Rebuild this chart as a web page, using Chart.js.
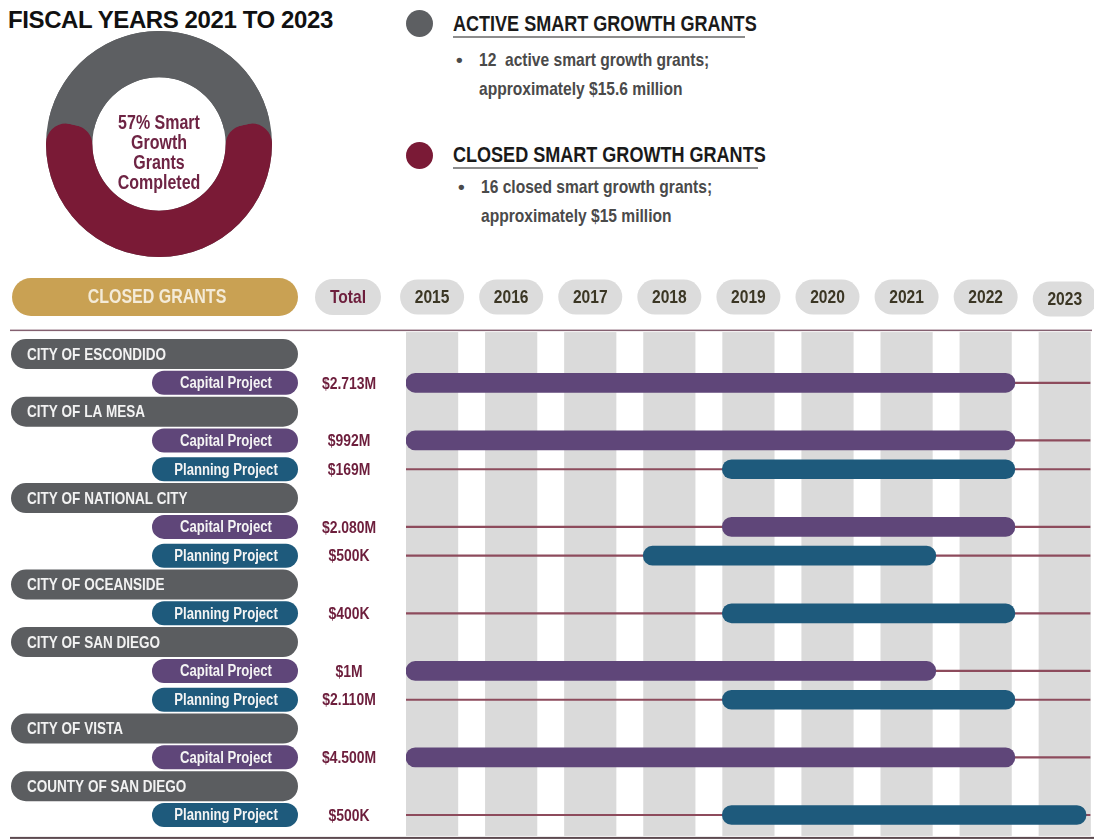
<!DOCTYPE html>
<html>
<head>
<meta charset="utf-8">
<script src="https://cdn.jsdelivr.net/npm/chart.js@4.4.0/dist/chart.umd.min.js"></script>
<style>
  html, body { margin: 0; padding: 0; background: #fff; }
  body { width: 1094px; height: 840px; position: relative; overflow: hidden;
         font-family: "Liberation Sans", Arial, sans-serif; }
  .abs { position: absolute; white-space: nowrap; line-height: 1; }
  /* no narrow face installed, so squeeze the bold face */
  .narrow { font-weight: bold; transform: scaleX(0.82); transform-origin: 0 0; }
  #title { left: 8px; top: 8px; font-size: 24px; font-weight: bold; letter-spacing: -0.4px; color: #111; }
  .head { font-size: 22px; color: #1a1a1a; }
  .body { font-size: 19px; color: #4a4a4a; }
  .dot { position: absolute; width: 27px; height: 27px; border-radius: 50%; }
  .rule { position: absolute; height: 1.5px; background: #8c8c8c; }
  #donutWrap { position: absolute; left: 46px; top: 31px; width: 226px; height: 226px; }
  #donutText { left: 59px; top: 112px; width: 200px; text-align: center; font-size: 19.5px; line-height: 20px;
               color: #6e2444; transform-origin: 50% 0; }
  #timeline { position: absolute; left: 0; top: 270px; }
</style>
</head>
<body>
<div id="title" class="abs">FISCAL YEARS 2021 TO 2023</div>

<div id="donutWrap"><canvas id="donut" width="226" height="226"></canvas></div>
<div id="donutText" class="abs narrow">57% Smart<br>Growth<br>Grants<br>Completed</div>

<div class="dot" style="left:406px; top:10px; background:#5d5f62"></div>
<div class="abs narrow head" style="left:453px; top:13px">ACTIVE SMART GROWTH GRANTS</div>
<div class="rule" style="left:453px; top:36px; width:292px"></div>
<div class="abs body" style="left:456px; top:50px; font-weight:bold">•</div>
<div class="abs narrow body" style="left:479px; top:50px">12&nbsp; active smart growth grants;</div>
<div class="abs narrow body" style="left:479px; top:79px">approximately $15.6 million</div>

<div class="dot" style="left:406px; top:142px; background:#7a1a36"></div>
<div class="abs narrow head" style="left:453px; top:144px">CLOSED SMART GROWTH GRANTS</div>
<div class="rule" style="left:453px; top:167px; width:305px"></div>
<div class="abs body" style="left:458px; top:177px; font-weight:bold">•</div>
<div class="abs narrow body" style="left:481px; top:177px">16 closed smart growth grants;</div>
<div class="abs narrow body" style="left:481px; top:206px">approximately $15 million</div>

<canvas id="timeline" width="1094" height="570"></canvas>

<script>
// ---- donut data
const donutLabels = ['Closed (completed)', 'Active'];
const donutValues = [57, 43];
const donutColors = ['#7a1a36', '#5d5f62'];

// ---- timeline data
const years = [2015, 2016, 2017, 2018, 2019, 2020, 2021, 2022, 2023];
const rowLabels = [
  'CITY OF ESCONDIDO', 'Capital Project',
  'CITY OF LA MESA', 'Capital Project', 'Planning Project',
  'CITY OF NATIONAL CITY', 'Capital Project', 'Planning Project',
  'CITY OF OCEANSIDE', 'Planning Project',
  'CITY OF SAN DIEGO', 'Capital Project', 'Planning Project',
  'CITY OF VISTA', 'Capital Project',
  'COUNTY OF SAN DIEGO', 'Planning Project'
];
const rowTypes = [
  'city', 'capital',
  'city', 'capital', 'planning',
  'city', 'capital', 'planning',
  'city', 'planning',
  'city', 'capital', 'planning',
  'city', 'capital',
  'city', 'planning'
];
const totals = [
  null, '$2.713M',
  null, '$992M', '$169M',
  null, '$2.080M', '$500K',
  null, '$400K',
  null, '$1M', '$2.110M',
  null, '$4.500M',
  null, '$500K'
];
// grant periods in years (bar ends)
const startYears = [null, 2015, null, 2015, 2019, null, 2019, 2018, null, 2019, null, 2015, 2019, null, 2015, null, 2019];
const endYears   = [null, 2022.7, null, 2022.7, 2022.7, null, 2022.7, 2021.7, null, 2022.7, null, 2021.7, 2022.7, null, 2022.7, null, 2023.6];
const lineStart = 2015;
const lineEnd = 2023.65;

const typeColors = { capital: '#5f4679', planning: '#1e5a7c', city: '#5b5d60' };
const colSpan = 0.66;   // width of a year column, in years
const SQUEEZE = 0.82;   // horizontal squeeze to fake a narrow face

function pill(ctx, x, y, w, h, color) {
  const r = h / 2;
  ctx.beginPath();
  ctx.moveTo(x + r, y);
  ctx.lineTo(x + w - r, y);
  ctx.arc(x + w - r, y + r, r, -Math.PI / 2, Math.PI / 2);
  ctx.lineTo(x + r, y + h);
  ctx.arc(x + r, y + r, r, Math.PI / 2, Math.PI * 1.5);
  ctx.closePath();
  ctx.fillStyle = color;
  ctx.fill();
}

function narrowText(ctx, text, x, y, size, color, align) {
  ctx.save();
  ctx.translate(x, y);
  ctx.scale(SQUEEZE, 1);
  ctx.font = 'bold ' + size + 'px "Liberation Sans", Arial, sans-serif';
  ctx.fillStyle = color;
  ctx.textAlign = align;
  ctx.textBaseline = 'middle';
  ctx.fillText(text, 0, 0);
  ctx.restore();
}

// gray ring under the donut so the rounded ends sit on gray
const ringPlugin = {
  id: 'ring',
  beforeDatasetsDraw(chart) {
    const arc = chart.getDatasetMeta(0).data[0];
    if (!arc) return;
    const ctx = chart.ctx;
    ctx.save();
    ctx.beginPath();
    ctx.arc(arc.x, arc.y, arc.outerRadius, 0, Math.PI * 2);
    ctx.arc(arc.x, arc.y, arc.innerRadius, Math.PI * 2, 0, true);
    ctx.fillStyle = donutColors[1];
    ctx.fill();
    ctx.restore();
  }
};

new Chart(document.getElementById('donut'), {
  type: 'doughnut',
  data: {
    labels: donutLabels,
    datasets: [{
      data: donutValues,
      backgroundColor: donutColors,
      borderWidth: 0,
      borderRadius: [20, 0]
    }]
  },
  options: {
    responsive: false,
    animation: false,
    cutout: '59%',
    // centre the closed share on the bottom
    rotation: 180 - donutValues[0] / (donutValues[0] + donutValues[1]) * 180,
    plugins: { legend: { display: false }, tooltip: { enabled: false } }
  },
  plugins: [ringPlugin]
});

const decorPlugin = {
  id: 'decor',
  beforeDatasetsDraw(chart) {
    const { ctx, chartArea, scales: { x } } = chart;
    ctx.save();
    ctx.fillStyle = '#dadada';
    years.forEach(yr => {
      const a = x.getPixelForValue(yr);
      const b = x.getPixelForValue(yr + colSpan);
      ctx.fillRect(a, chartArea.top - 7.5, b - a, chartArea.bottom - chartArea.top + 14);
    });
    ctx.restore();
  },
  afterDraw(chart) {
    const { ctx, chartArea, scales: { x, y } } = chart;
    ctx.save();

    // top and bottom rules
    ctx.fillStyle = '#846070';
    ctx.fillRect(10, chartArea.top - 10, 1082, 1.5);
    ctx.fillStyle = '#5d4a50';
    ctx.fillRect(10, chartArea.bottom + 7.5, 1084, 2);

    // header row
    const hy = 27;
    pill(ctx, 12, hy - 19, 286, 38, '#c9a153');
    narrowText(ctx, 'CLOSED GRANTS', 157, hy + 1, 19.5, '#f4ebd8', 'center');

    pill(ctx, 315, hy - 18, 66, 36, '#dcdcdc');
    narrowText(ctx, 'Total', 348, hy + 1, 19, '#6d1e3c', 'center');

    years.forEach(yr => {
      const cx = x.getPixelForValue(yr + colSpan / 2);
      const cy = yr === 2023 ? hy + 2 : hy;
      pill(ctx, cx - 32, cy - 17.5, 64, 35, '#dcdcdc');
      narrowText(ctx, String(yr), cx, cy + 1, 19, '#3b3624', 'center');
    });

    // row labels
    rowLabels.forEach((label, i) => {
      const cy = y.getPixelForValue(i);
      if (rowTypes[i] === 'city') {
        pill(ctx, 11, cy - 15, 287, 30, typeColors.city);
        narrowText(ctx, label, 27, cy + 1, 16.5, '#f2f2f2', 'left');
      } else {
        pill(ctx, 152, cy - 12, 146, 24, typeColors[rowTypes[i]]);
        narrowText(ctx, label, 226, cy + 1, 16, '#f4f4f4', 'center');
      }
      if (totals[i]) {
        narrowText(ctx, totals[i], 349, cy + 1, 17, '#6d1e3c', 'center');
      }
    });
    ctx.restore();
  }
};

new Chart(document.getElementById('timeline'), {
  type: 'bar',
  data: {
    labels: rowLabels,
    datasets: [
      {
        label: 'Grant period',
        data: rowLabels.map((_, i) => startYears[i] == null ? null : [startYears[i], endYears[i]]),
        backgroundColor: c => typeColors[rowTypes[c.dataIndex]],
        barThickness: 19,
        borderRadius: 10,
        borderSkipped: false,
        grouped: false
      },
      {
        label: 'Row line',
        data: rowLabels.map((_, i) => startYears[i] == null ? null : [lineStart, lineEnd]),
        backgroundColor: '#8d4b5c',
        barThickness: 1.5,
        grouped: false
      }
    ]
  },
  options: {
    indexAxis: 'y',
    responsive: false,
    animation: false,
    layout: { padding: { left: 406, right: 0, top: 69.6, bottom: 10.6 } },
    plugins: { legend: { display: false }, tooltip: { enabled: false } },
    scales: {
      x: { type: 'linear', min: 2015, max: 2023.7, display: false },
      y: { display: false }
    }
  },
  plugins: [decorPlugin]
});
</script>
</body>
</html>
